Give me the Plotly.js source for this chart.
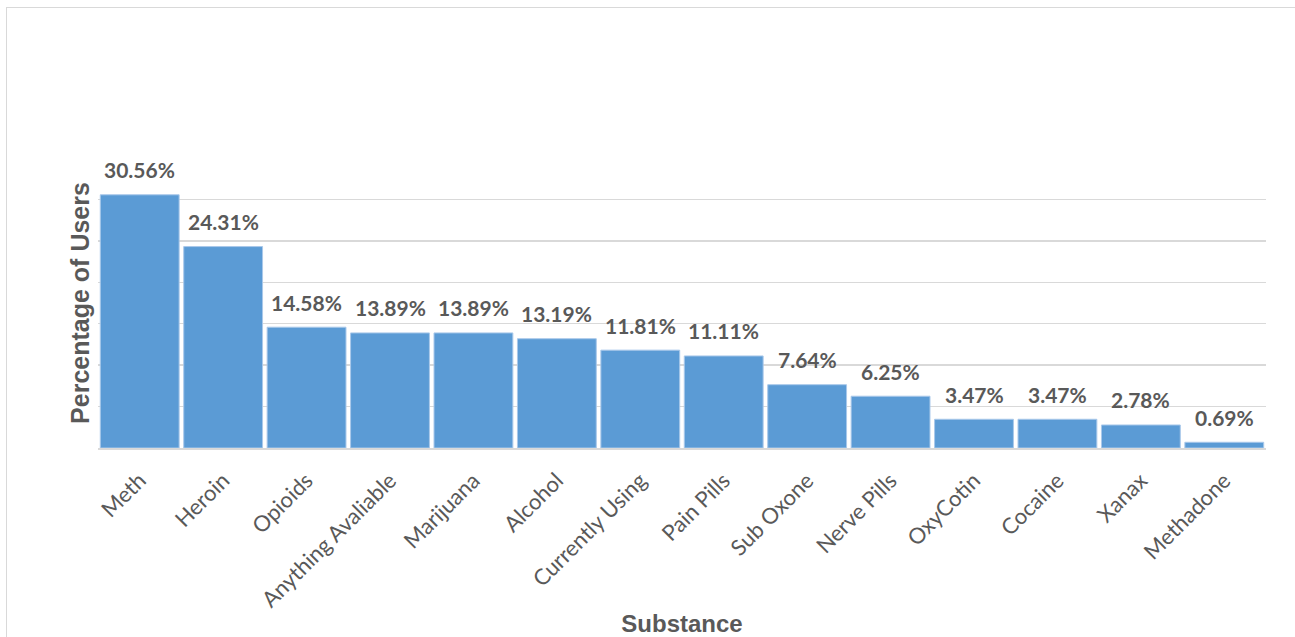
<!DOCTYPE html>
<html>
<head>
<meta charset="utf-8">
<script src="https://cdn.plot.ly/plotly-3.0.1.min.js"></script>
<style>
  html, body { margin: 0; padding: 0; background: #ffffff; overflow: hidden; }
  #wrap { position: relative; width: 1295px; height: 637px; }
  #chart { position: absolute; left: 0; top: 0; width: 1295px; height: 637px; }
  #frame { position: absolute; left: 6px; top: 7px; width: 1400px; height: 700px;
           border: 1.5px solid #d9d9d9; pointer-events: none; }
</style>
</head>
<body>
<div id="wrap">
  <div id="chart"></div>
  <div id="frame"></div>
</div>
<script>
// Substances reported and share of users (percent)
const substances = [
  "Meth", "Heroin", "Opioids", "Anything Avaliable", "Marijuana", "Alcohol",
  "Currently Using", "Pain Pills", "Sub Oxone", "Nerve Pills", "OxyCotin",
  "Cocaine", "Xanax", "Methadone"
];
const percentUsers = [
  30.56, 24.31, 14.58, 13.89, 13.89, 13.19,
  11.81, 11.11, 7.64, 6.25, 3.47,
  3.47, 2.78, 0.69
];
const yTickValues = [0, 5, 10, 15, 20, 25, 30, 35];

const textGray = "#595959";
const gridGray = "#d9d9d9";
const barBlue = "#5b9bd5";

const trace = {
  type: "bar",
  x: substances,
  y: percentUsers,
  marker: { color: barBlue, line: { color: "#a9c8ea", width: 1 } },
  hoverinfo: "x+y"
};

// Value labels sit above each bar
const labels = substances.map((s, i) => ({
  x: s,
  y: percentUsers[i],
  xref: "x",
  yref: "y",
  text: percentUsers[i].toFixed(2) + "%",
  showarrow: false,
  xanchor: "center",
  yanchor: "middle",
  yshift: 25,
  font: { family: "Lato, 'Open Sans', sans-serif", size: 21, color: textGray, weight: 700 }
}));

const layout = {
  width: 1295,
  height: 637,
  margin: { l: 98, r: 29, t: 158, b: 189, pad: 0 },
  paper_bgcolor: "#ffffff",
  plot_bgcolor: "#ffffff",
  bargap: 0.055,
  showlegend: false,
  xaxis: {
    type: "category",
    tickangle: -45,
    ticks: "",
    showgrid: false,
    showline: true,
    linecolor: gridGray,
    linewidth: 2,
    ticklabelstandoff: 9,
    tickfont: { family: "Lato, 'Open Sans', sans-serif", size: 22, color: textGray },
    title: {
      text: "Substance",
      font: { family: "'Liberation Sans', Arial, sans-serif", size: 24, color: textGray, weight: 700 },
      standoff: 20
    },
    automargin: false
  },
  yaxis: {
    range: [0, 35],
    tickvals: yTickValues,
    showticklabels: false,
    ticks: "",
    showgrid: true,
    gridcolor: gridGray,
    gridwidth: 1.5,
    zeroline: false,
    showline: false,
    title: {
      text: "Percentage of Users",
      font: { family: "'Liberation Sans', Arial, sans-serif", size: 25, color: textGray, weight: 700 },
      standoff: 0
    },
    automargin: false
  },
  annotations: labels
};

Plotly.newPlot("chart", [trace], layout, { displayModeBar: false, staticPlot: true });
</script>
</body>
</html>
